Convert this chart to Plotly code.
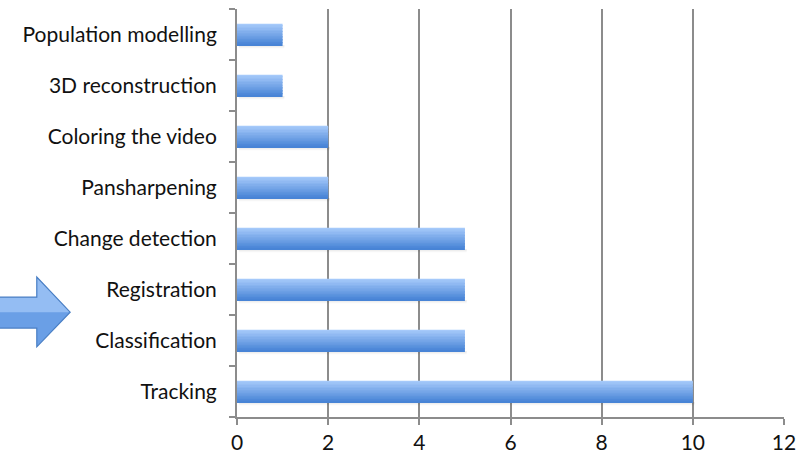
import plotly.graph_objects as go

# Number of studies per application area
categories = [
    "Tracking",
    "Classification",
    "Registration",
    "Change detection",
    "Pansharpening",
    "Coloring the video",
    "3D reconstruction",
    "Population modelling",
]
counts = [10, 5, 5, 5, 2, 2, 1, 1]
x_ticks = [0, 2, 4, 6, 8, 10, 12]


def mix(c1, c2, t):
    return "rgb(%d,%d,%d)" % tuple(round(a + (b - a) * t) for a, b in zip(c1, c2))


top_rgb = (165, 201, 250)
bottom_rgb = (72, 132, 214)
bar_half = 0.21
n_strips = 14
strip_w = 2 * bar_half / n_strips

fig = go.Figure()

# soft drop shadow under each bar
for k, alpha in enumerate([0.10, 0.06, 0.03]):
    fig.add_trace(go.Bar(
        y=categories, x=counts, orientation="h",
        base=0.04,
        offset=-bar_half - 0.02 * (k + 1), width=0.02,
        marker=dict(color="rgba(0,0,0,%.2f)" % alpha, line=dict(width=0)),
        hoverinfo="skip", showlegend=False,
    ))

# vertical gradient built from stacked strips
for i in range(n_strips):
    t = i / (n_strips - 1)
    fig.add_trace(go.Bar(
        y=categories, x=counts, orientation="h",
        offset=bar_half - (i + 1) * strip_w, width=strip_w * 1.02,
        marker=dict(color=mix(top_rgb, bottom_rgb, t), line=dict(width=0)),
        hoverinfo="skip", showlegend=False,
    ))

# block arrow pointing at the chart (lighter upper half, darker lower half)
arrow = ("M -0.45 0.294 L -0.366 0.294 L -0.366 0.343 L -0.305 0.257 "
         "L -0.366 0.172 L -0.366 0.218 L -0.45 0.218 Z")
upper = ("M -0.45 0.294 L -0.366 0.294 L -0.366 0.343 L -0.305 0.257 "
         "L -0.45 0.257 Z")
fig.add_shape(type="path", xref="paper", yref="paper", path=arrow,
              fillcolor="#6a9fe6", line=dict(width=0), layer="above")
fig.add_shape(type="path", xref="paper", yref="paper", path=upper,
              fillcolor="#94bdf3", line=dict(width=0), layer="above")
fig.add_shape(type="path", xref="paper", yref="paper", path=arrow,
              fillcolor="rgba(0,0,0,0)", line=dict(color="#4a7fc4", width=1.2),
              layer="above")

fig.update_layout(
    width=801, height=460,
    margin=dict(l=237, r=17, t=9, b=43),
    paper_bgcolor="white", plot_bgcolor="white",
    barmode="overlay",
    font=dict(family="Lato, Carlito, sans-serif", size=21, color="#111"),
    xaxis=dict(
        range=[0, 12], tickvals=x_ticks, showgrid=True,
        gridcolor="#8c8c8c", gridwidth=2,
        showline=True, linecolor="#8c8c8c", linewidth=2,
        ticks="outside", ticklen=6, tickwidth=2, tickcolor="#8c8c8c",
        zeroline=False, fixedrange=True, automargin=False,
    ),
    yaxis=dict(
        categoryorder="array", categoryarray=categories,
        showline=True, linecolor="#8c8c8c", linewidth=2,
        ticks="outside", ticklen=6, tickwidth=2, tickcolor="#8c8c8c",
        tickson="boundaries", showgrid=False,
        ticklabelstandoff=14, fixedrange=True, automargin=False,
    ),
)

fig.write_html("out.html")
